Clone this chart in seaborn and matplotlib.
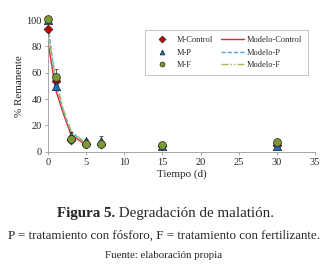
import numpy as np
import pandas as pd
import matplotlib
matplotlib.use('Agg')
import matplotlib.pyplot as plt
import seaborn as sns

sns.set_style('white')
plt.rcParams['font.family'] = ['Liberation Serif', 'DejaVu Serif']

# datos medidos
tiempo = [0, 1, 3, 5, 7, 15, 30]
m_control = [93, 54, 9, 6, 6, 4, 5]
m_p = [100, 50, 12, 8, 8, 4, 4]
m_f = [101, 57, 10, 6, 6, 5, 7]
err_control = [2, 5, 2, 1, 2, 1, 1]
err_p = [2, 3, 3, 2, 4, 1, 1]
err_f = [2, 6, 3, 1, 2, 1, 1]

# modelos
t_modelo = [0, 1, 2, 3, 5]
modelo_control = [83, 47, 29, 13, 5]
modelo_p = [95, 52, 31, 15, 6]
modelo_f = [92, 55, 32, 16, 6]

series = ['M-Control', 'M-P', 'M-F']
modelos = ['Modelo-Control', 'Modelo-P', 'Modelo-F']
col_pts = ['#C00000', '#1F6FC0', '#7A9A30']
col_lin = ['#E0262B', '#4BA3E0', '#9BBB59']
marcas = ['D', '^', 'o']
tamanos = [20, 36, 32]

df_pts = pd.DataFrame({
    'tiempo': tiempo * 3,
    'valor': m_control + m_p + m_f,
    'err': err_control + err_p + err_f,
    'serie': np.repeat(series, len(tiempo)),
})
df_mod = pd.DataFrame({
    'tiempo': t_modelo * 3,
    'valor': modelo_control + modelo_p + modelo_f,
    'serie': np.repeat(modelos, len(t_modelo)),
})

fig = plt.figure(figsize=(3.27, 2.68), dpi=100)
ax = fig.add_axes([0.147, 0.434, 0.816, 0.491])

sns.lineplot(data=df_mod, x='tiempo', y='valor', hue='serie', style='serie',
             palette=dict(zip(modelos, col_lin)),
             dashes={'Modelo-Control': '', 'Modelo-P': (3, 1.5), 'Modelo-F': (5, 1.5, 1, 1.5, 1, 1.5)},
             linewidth=1.0, ax=ax, legend=False, zorder=2)

for s, c in zip(series, col_pts):
    d = df_pts[df_pts['serie'] == s]
    ax.errorbar(d['tiempo'], d['valor'], yerr=d['err'], fmt='none', ecolor='#444444',
                elinewidth=0.6, capsize=1.5, capthick=0.6, zorder=3, clip_on=False)

for s, c, m, sz in zip(series, col_pts, marcas, tamanos):
    d = df_pts[df_pts['serie'] == s]
    sns.scatterplot(data=d, x='tiempo', y='valor', color=c, marker=m, s=sz,
                    edgecolor='#222222', linewidth=0.5, ax=ax, zorder=4, clip_on=False)

ax.set_xlim(0, 35)
ax.set_ylim(0, 100)
ax.set_xticks(range(0, 36, 5))
ax.set_yticks(range(0, 101, 20))
ax.tick_params(labelsize=7.5, length=2.5, width=0.6, color='#999999', direction='out',
               left=True, bottom=True, pad=2)
for sp in ['top', 'right']:
    ax.spines[sp].set_visible(False)
for sp in ['left', 'bottom']:
    ax.spines[sp].set_color('#999999')
    ax.spines[sp].set_linewidth(0.6)
ax.set_xlabel('Tiempo (d)', fontsize=8, labelpad=2)
ax.set_ylabel('% Remanente', fontsize=8, labelpad=2)

# leyenda
h_pts = [plt.Line2D([], [], linestyle='none', marker=m, color=c, markeredgecolor='#222222',
                    markeredgewidth=0.5, markersize=3.5) for m, c in zip(marcas, col_pts)]
h_lin = [plt.Line2D([], [], color=col_lin[0], lw=1.0),
         plt.Line2D([], [], color=col_lin[1], lw=1.0, dashes=(3, 1.5)),
         plt.Line2D([], [], color=col_lin[2], lw=1.0, dashes=(5, 1.5, 1, 1.5, 1, 1.5))]
leg = ax.legend(h_pts + h_lin, series + modelos, ncol=2, fontsize=6,
                loc='upper right', bbox_to_anchor=(0.974, 0.924), borderaxespad=0,
                frameon=True, fancybox=False, edgecolor='#aaaaaa', handlelength=2.8,
                handletextpad=0.3, columnspacing=1.0, labelspacing=0.55, borderpad=0.7)
leg.get_frame().set_linewidth(0.6)

# pie de figura: parte en negrita + parte normal, centradas juntas
t1 = fig.text(0, 0.205, 'Figura 5.', fontsize=10.8, fontweight='bold', ha='left', va='center')
t2 = fig.text(0, 0.205, ' Degradación de malatión.', fontsize=10.8, ha='left', va='center')
fig.canvas.draw()
r = fig.canvas.get_renderer()
w1 = t1.get_window_extent(r).width / fig.bbox.width
w2 = t2.get_window_extent(r).width / fig.bbox.width
x0 = 0.505 - (w1 + w2) / 2
t1.set_x(x0)
t2.set_x(x0 + w1)
fig.text(0.5, 0.122, 'P = tratamiento con fósforo, F = tratamiento con fertilizante.',
         fontsize=9.4, ha='center', va='center')
fig.text(0.5, 0.045, 'Fuente: elaboración propia', fontsize=7.8, ha='center', va='center')

fig.savefig('out.png', dpi=100)
